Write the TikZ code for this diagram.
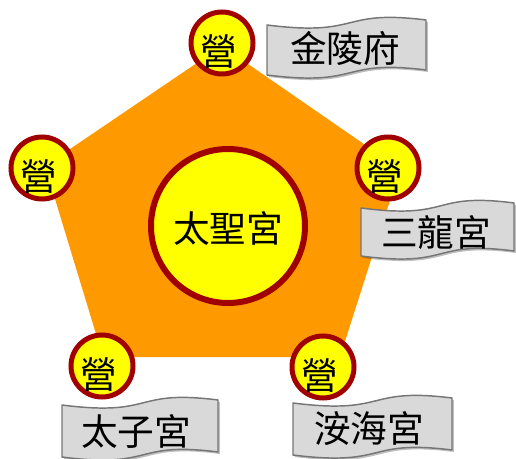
\documentclass[tikz,border=0pt]{standalone}
\usepackage{fontspec}
\newfontfamily\cjk{Noto Sans CJK TC}
\definecolor{orng}{RGB}{255,153,0}
\definecolor{ylw}{RGB}{255,255,0}
\definecolor{dred}{RGB}{160,0,0}
\definecolor{bfill}{RGB}{217,217,217}
\definecolor{bline}{RGB}{118,118,118}
\tikzset{
  camp/.style={circle, fill=ylw, draw=dred, line width=3.75pt, minimum size=46.5pt, inner sep=0pt},
  core/.style={circle, fill=ylw, draw=dred, line width=4.5pt, minimum size=115.5pt, inner sep=0pt},
  bigtxt/.style={inner sep=0pt, font=\cjk\fontsize{27.5pt}{30pt}\selectfont},
  flagbox/.style={fill=bfill, draw=bline, line width=1.1pt, line join=round},
  flagshadow/.style={fill=black, opacity=0.25},
}
\newcommand\flagpath[1]{(0,0) .. controls (60,12) and (45,-16) .. (100,-5) -- (100,#1-5) .. controls (45,#1-16) and (60,#1+12) .. (0,#1) -- cycle}
\begin{document}
\begin{tikzpicture}[x=0.75pt,y=-0.75pt]
\useasboundingbox (0,0) rectangle (516,459);
% pentagon
\fill[orng] (222,46) -- (400,169) -- (340,357) -- (103,357) -- (45,166) -- cycle;
% central circle
\node[core] (center) at (228,226) {};
\node[bigtxt] (centertext) at (228,228) {太聖宮};
% camps
\node[camp] (c1) at (222,43) {};
\node[camp] (c2) at (388,168) {};
\node[camp] (c3) at (323,367) {};
\node[camp] (c4) at (102,366) {};
\node[camp] (c5) at (42,168) {};
\node[bigtxt] (y1) at (219,52) {營};
\node[bigtxt] (y2) at (385,177) {營};
\node[bigtxt] (y3) at (320,376) {營};
\node[bigtxt] (y4) at (99,375) {營};
\node[bigtxt] (y5) at (39,177) {營};
% banners
\begin{scope}[shift={(267,25)},xscale=1.59]
  \fill[flagshadow,shift={(1.2,2)}] \flagpath{50};
  \draw[flagbox] \flagpath{50};
\end{scope}
\node[bigtxt] (f1) at (345,48) {金陵府};
\begin{scope}[shift={(361,208)},xscale=1.53]
  \fill[flagshadow,shift={(1.2,2)}] \flagpath{48};
  \draw[flagbox] \flagpath{48};
\end{scope}
\node[bigtxt] (f2) at (436,233) {三龍宮};
\begin{scope}[shift={(62,405)},xscale=1.56]
  \fill[flagshadow,shift={(1.2,2)}] \flagpath{52};
  \draw[flagbox] \flagpath{52};
\end{scope}
\node[bigtxt] (f3) at (136,431) {太子宮};
\begin{scope}[shift={(293,403)},xscale=1.59]
  \fill[flagshadow,shift={(1.2,2)}] \flagpath{52};
  \draw[flagbox] \flagpath{52};
\end{scope}
\node[bigtxt] (f4) at (369,429) {洝海宮};
\end{tikzpicture}
\end{document}
